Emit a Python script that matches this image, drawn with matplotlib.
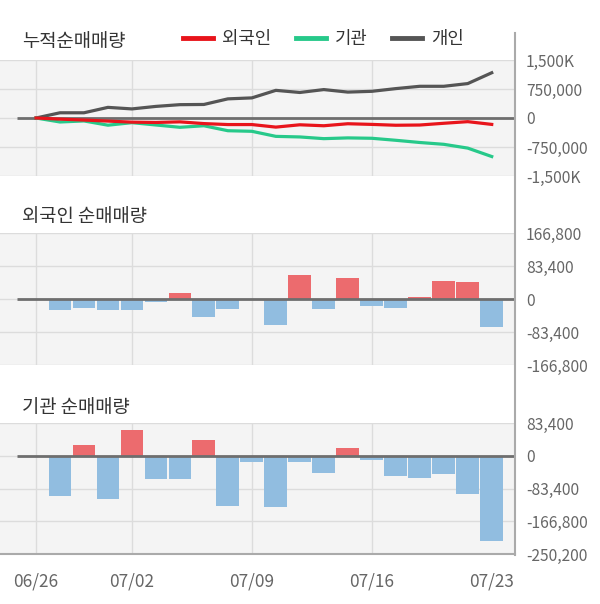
import numpy as np
import matplotlib
matplotlib.use('Agg')
import matplotlib.pyplot as plt
from matplotlib.lines import Line2D

plt.rcParams['font.family'] = ['Noto Sans CJK KR', 'DejaVu Sans']

# 거래일 (06/26 ~ 07/23)
dates = ['06/26', '06/27', '06/28', '06/29', '07/02', '07/03', '07/04', '07/05',
         '07/06', '07/09', '07/10', '07/11', '07/12', '07/13', '07/16', '07/17',
         '07/18', '07/19', '07/20', '07/23']
tick_dates = ['06/26', '07/02', '07/09', '07/16', '07/23']

# 일별 순매매량 (06/26은 기준일)
foreign = [0, -29000, -24000, -27000, -27000, -8500, 16000, -45000, -25000, 0,
           -66000, 60000, -25000, 52000, -17000, -22000, 6000, 45000, 42000, -71000]
inst = [0, -103000, 27000, -110000, 65500, -60000, -60000, 40000, -128500, -15000,
        -131000, -15000, -44000, 19500, -10000, -52000, -57000, -47000, -98000, -218000]
# 개인 누적 순매매량
indiv_cum = [0, 135000, 135000, 275000, 235000, 300000, 345000, 350000, 495000, 520000,
             715000, 660000, 735000, 670000, 690000, 760000, 820000, 820000, 890000, 1170000]

foreign_cum = np.cumsum(foreign)
inst_cum = np.cumsum(inst)

x = np.arange(len(dates))
grid_idx = [dates.index(d) for d in tick_dates if d != '07/23']

BG = '#f4f4f4'
GRID = '#dcdcdc'
TXT = '#666666'
W, H = 600, 604

fig = plt.figure(figsize=(6, 6.04), dpi=100)


def make_ax(top, bottom):
    ax = fig.add_axes([0, 1 - bottom / H, 515 / W, (bottom - top) / H])
    ax.set_facecolor(BG)
    for s in ax.spines.values():
        s.set_visible(False)
    ax.set_xlim(-1.5, 19.97)
    ax.yaxis.tick_right()
    ax.tick_params(axis='y', length=0, pad=8, labelsize=11.2, labelcolor=TXT)
    ax.set_xticks([])
    for i in grid_idx:
        ax.axvline(i, color=GRID, lw=1, zorder=0)
    return ax


# 누적순매매량
ax1 = make_ax(60, 176)
ax1.set_ylim(-1500000, 1500000)
yt1 = [1500000, 750000, 0, -750000, -1500000]
ax1.set_yticks(yt1)
ax1.set_yticklabels(['1,500K', '750,000', '0', '-750,000', '-1,500K'])
for v in yt1:
    ax1.axhline(v, color=GRID, lw=1, zorder=0)
ax1.hlines(0, -0.8, 20, color='#6e6e6e', lw=2, zorder=1)
ax1.plot(x, inst_cum, color='#27c98a', lw=2.3, zorder=3)
ax1.plot(x, foreign_cum, color='#e8141b', lw=2.3, zorder=4)
ax1.plot(x, indiv_cum, color='#555555', lw=2.3, zorder=2)
fig.text(22 / W, 1 - 42 / H, '누적순매매량', fontsize=13.5, color='#333333', va='center')

legend_items = [('외국인', '#e8141b', 183), ('기관', '#27c98a', 296), ('개인', '#555555', 392)]
for name, col, lx in legend_items:
    fig.add_artist(Line2D([lx / W, (lx + 30) / W], [1 - 38 / H] * 2,
                          transform=fig.transFigure, color=col, lw=3.5))
    fig.text((lx + 39) / W, 1 - 39 / H, name, fontsize=12.8, color='#333333', va='center')


def bar_panel(ax, vals, yticks, ylabels):
    vals = np.array(vals)
    cols = ['#ec6b6e' if v > 0 else '#91bde0' for v in vals]
    ax.bar(x, vals, width=0.95, color=cols, zorder=2)
    ax.set_ylim(min(yticks), max(yticks))
    ax.set_yticks(yticks)
    ax.set_yticklabels(ylabels)
    for v in yticks:
        ax.axhline(v, color=GRID, lw=1, zorder=0)
    ax.hlines(0, -0.8, 20, color='#6e6e6e', lw=2, zorder=3)


ax2 = make_ax(233, 365)
bar_panel(ax2, foreign, [166800, 83400, 0, -83400, -166800],
          ['166,800', '83,400', '0', '-83,400', '-166,800'])
fig.text(22 / W, 1 - 216 / H, '외국인 순매매량', fontsize=13.5, color='#333333', va='center')

ax3 = make_ax(423, 554)
bar_panel(ax3, inst, [83400, 0, -83400, -166800, -250200],
          ['83,400', '0', '-83,400', '-166,800', '-250,200'])
ax3.spines['bottom'].set_visible(True)
ax3.spines['bottom'].set_color('#aaaaaa')
ax3.spines['bottom'].set_linewidth(1.5)
fig.text(22 / W, 1 - 408 / H, '기관 순매매량', fontsize=13.5, color='#333333', va='center')

ax3.set_xticks([dates.index(d) for d in tick_dates])
ax3.set_xticklabels(tick_dates)
ax3.tick_params(axis='x', length=0, pad=13, labelsize=12.4, labelcolor=TXT)

# 오른쪽 세로 축선
fig.add_artist(Line2D([515 / W, 515 / W], [1 - 33 / H, 1 - 555 / H],
                      transform=fig.transFigure, color='#aaaaaa', lw=1.5))

fig.savefig('out.png', dpi=100)
